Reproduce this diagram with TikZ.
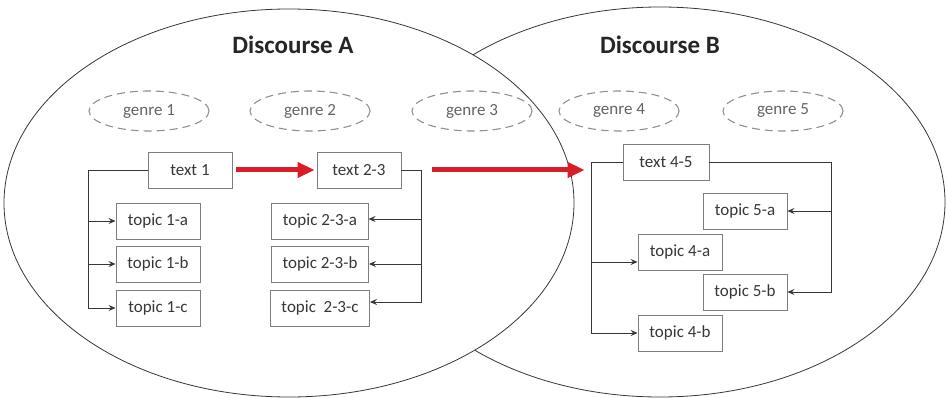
\documentclass[tikz,border=0pt]{standalone}
\usepackage{fontspec}
\setmainfont{Carlito}
\usetikzlibrary{arrows.meta,shapes.geometric}
\definecolor{flowred}{RGB}{215,30,40}
\definecolor{boxgray}{RGB}{125,125,125}
\definecolor{inkgray}{RGB}{55,55,55}
\tikzset{
  textbox/.style={draw=boxgray, line width=0.9pt, minimum width=84pt, minimum height=36pt, inner xsep=11pt, text=inkgray, font=\fontsize{17}{20}\selectfont},
  genrebox/.style={ellipse, draw=boxgray!85, dashed, dash pattern=on 8pt off 5pt, line width=1.1pt, minimum width=120pt, minimum height=40pt, text=boxgray!80!black, font=\fontsize{17}{20}\selectfont},
  tip/.style={-{Stealth[length=7pt,width=6pt,inset=2.5pt]}, draw=inkgray, line width=0.8pt},
  flow/.style={-{Triangle[length=17pt,width=15pt]}, draw=flowred, line width=5pt},
}
\begin{document}
\begin{tikzpicture}[x=1pt,y=-1pt]
    \useasboundingbox (0,0) rectangle (948,398);
    % the two discourses
    \draw[inkgray, line width=0.8pt, fill=white] (660,202) ellipse (285 and 195);
    \draw[inkgray, line width=0.8pt, fill=white] (289,203) ellipse (285 and 194);
    \node[font=\fontsize{25}{30}\selectfont\bfseries, text=black!85] (dA) at (293,45) {Discourse A};
    \node[font=\fontsize{25}{30}\selectfont\bfseries, text=black!85] (dB) at (660,45) {Discourse B};
    % genres
    \node[genrebox] (g1) at (149,111) {genre 1};
    \node[genrebox] (g2) at (310,111) {genre 2};
    \node[genrebox] (g3) at (472,111) {genre 3};
    \node[genrebox] (g4) at (619,111) {genre 4};
    \node[genrebox] (g5) at (783,111) {genre 5};
    % texts
    \node[textbox] (t1) at (190,170) {text 1};
    \node[textbox] (t23) at (359,170) {text 2-3};
    \node[textbox, minimum width=86pt] (t45) at (666,162) {text 4-5};
    % topics
    \node[textbox] (t1a) at (158,221) {topic 1-a};
    \node[textbox] (t1b) at (158,264) {topic 1-b};
    \node[textbox] (t1c) at (158,308) {topic 1-c};
    \node[textbox] (t23a) at (320,221) {topic 2-3-a};
    \node[textbox] (t23b) at (320,264) {topic 2-3-b};
    \node[textbox] (t23c) at (320,308) {topic\ \ 2-3-c};
    \node[textbox] (t5a) at (745,211) {topic 5-a};
    \node[textbox] (t4a) at (680,252) {topic 4-a};
    \node[textbox] (t5b) at (745,292) {topic 5-b};
    \node[textbox] (t4b) at (680,333) {topic 4-b};
    % brackets
    \foreach \n in {t1a,t1b,t1c} \draw[tip] (t1.west) -- ++(-59,0) |- (\n.west);
    \foreach \n/\s in {t23a/2,t23b/0,t23c/6} \draw[tip] (t23.east) -- ++(20,0) |- ([yshift=\s pt]\n.east);
    \foreach \n/\s in {t4a/-10,t4b/0} \draw[tip] (t45.west) -- ++(-31,0) |- ([yshift=\s pt]\n.west);
    \foreach \n in {t5a,t5b} \draw[tip] (t45.east) -- ++(122,0) |- (\n.east);
    % flow between texts
    \draw[flow, shorten <=4pt, shorten >=2pt] (t1.east) -- (t23.west);
    \draw[flow, shorten <=31pt, shorten >=38pt] (t23.east) -- (t23.east -| t45.west);
\end{tikzpicture}
\end{document}
